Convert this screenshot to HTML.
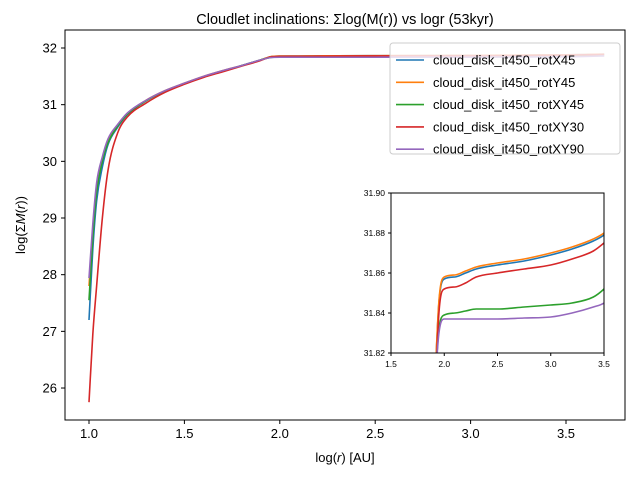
<!DOCTYPE html>
<html><head><meta charset="utf-8"><style>
html,body{margin:0;padding:0;background:#fff;width:640px;height:480px;overflow:hidden}
svg{position:absolute;left:0;top:0;display:block;font-family:"Liberation Sans","DejaVu Sans",sans-serif}
</style></head><body>
<svg id="chart" width="640" height="480" viewBox="0 0 640 480" xmlns="http://www.w3.org/2000/svg" overflow="hidden">
<defs>
<clipPath id="cm"><rect x="65" y="30" width="560" height="390"/></clipPath>
<clipPath id="ci"><rect x="391" y="193" width="213" height="160"/></clipPath>
</defs>
<rect width="640" height="480" fill="#fff"/>
<text x="345" y="24" text-anchor="middle" font-size="14.5">Cloudlet inclinations: Σlog(M(r)) vs logr (53kyr)</text>
<g id="mainLines" clip-path="url(#cm)"></g>
<rect x="65" y="30" width="560" height="390" fill="none" stroke="#000" stroke-width="1"/>
<g id="mainTicks" font-size="13"></g>
<text x="345" y="462" text-anchor="middle" font-size="13">log(<tspan font-style="italic">r</tspan>) [AU]</text>
<text transform="translate(25,225) rotate(-90)" text-anchor="middle" font-size="13">log(Σ<tspan font-style="italic">M</tspan>(<tspan font-style="italic">r</tspan>))</text>
<g id="legend">
<rect x="390" y="43" width="230" height="111" rx="3" fill="#fff" fill-opacity="0.8" stroke="#ccc"/>
</g>
<rect x="391" y="193" width="213" height="160" fill="#fff"/>
<g id="insetLines" clip-path="url(#ci)"></g>
<rect x="391" y="193" width="213" height="160" fill="none" stroke="#000" stroke-width="1"/>
<g id="insetTicks" font-size="8.5"></g>
</svg>
<script>
const xs=[1.0,1.02,1.04,1.07,1.1,1.15,1.2,1.3,1.4,1.5,1.6,1.7,1.8,1.9,1.95,2.0,2.1,2.2,2.3,2.5,2.75,3.0,3.2,3.4,3.5,3.6,3.7];
const seriesNames=["cloud_disk_it450_rotX45","cloud_disk_it450_rotY45","cloud_disk_it450_rotXY45","cloud_disk_it450_rotXY30","cloud_disk_it450_rotXY90"];
const seriesColors=["#1f77b4","#ff7f0e","#2ca02c","#d62728","#9467bd"];
const rotX45=[27.2,28.45,29.3,29.9,30.3,30.6,30.82,31.07,31.24,31.37,31.49,31.59,31.69,31.79,31.845,31.857,31.858,31.86,31.862,31.864,31.866,31.869,31.872,31.876,31.879,31.884,31.89];
const rotY45=[27.8,28.8,29.55,30.02,30.36,30.64,30.84,31.08,31.25,31.38,31.5,31.6,31.69,31.79,31.846,31.858,31.859,31.861,31.863,31.865,31.867,31.87,31.873,31.877,31.88,31.885,31.891];
const rotXY45=[27.55,28.65,29.45,30.0,30.33,30.62,30.83,31.07,31.24,31.37,31.49,31.59,31.69,31.79,31.832,31.839,31.84,31.841,31.842,31.842,31.843,31.844,31.845,31.848,31.852,31.858,31.865];
const rotXY30=[25.75,26.95,27.8,29.0,29.85,30.5,30.78,31.03,31.22,31.36,31.48,31.58,31.68,31.78,31.84,31.852,31.853,31.855,31.858,31.86,31.862,31.864,31.867,31.871,31.875,31.88,31.886];
const rotXY90=[27.94,28.9,29.62,30.08,30.4,30.65,30.85,31.08,31.25,31.38,31.5,31.6,31.69,31.79,31.83,31.837,31.837,31.837,31.837,31.837,31.8375,31.838,31.84,31.843,31.845,31.85,31.86];
const allSeries=[rotX45,rotY45,rotXY45,rotXY30,rotXY90];
const mainXTicks=[1.0,1.5,2.0,2.5,3.0,3.5];
const mainYTicks=[26,27,28,29,30,31,32];
const insetXTicks=[1.5,2.0,2.5,3.0,3.5];
const insetYTicks=[31.82,31.84,31.86,31.88,31.90];

const NS="http://www.w3.org/2000/svg";
const mx=v=>89+(v-1.0)*190.8;
const my=v=>48+(32-v)*56.67;
const ix=v=>391+(v-1.5)*106.5;
const iy=v=>353-(v-31.82)*2000;
function el(t,a,p){const e=document.createElementNS(NS,t);for(const k in a)e.setAttribute(k,a[k]);p.appendChild(e);return e;}
function monoPath(px,py){
  const n=px.length,d=[],m=[];
  for(let i=0;i<n-1;i++)d.push((py[i+1]-py[i])/(px[i+1]-px[i]));
  m[0]=d[0];m[n-1]=d[n-2];
  for(let i=1;i<n-1;i++){m[i]=(d[i-1]*d[i]<=0)?0:(d[i-1]+d[i])/2;}
  for(let i=0;i<n-1;i++){
    if(d[i]===0){m[i]=0;m[i+1]=0;continue;}
    const a=m[i]/d[i],b=m[i+1]/d[i],s=a*a+b*b;
    if(s>9){const t=3/Math.sqrt(s);m[i]=t*a*d[i];m[i+1]=t*b*d[i];}
  }
  let s='M'+px[0].toFixed(2)+','+py[0].toFixed(2);
  for(let i=0;i<n-1;i++){
    const h=(px[i+1]-px[i])/3;
    s+='C'+(px[i]+h).toFixed(2)+','+(py[i]+m[i]*h).toFixed(2)+' '+(px[i+1]-h).toFixed(2)+','+(py[i+1]-m[i+1]*h).toFixed(2)+' '+px[i+1].toFixed(2)+','+py[i+1].toFixed(2);
  }
  return s;
}
const mainG=document.getElementById('mainLines'),insG=document.getElementById('insetLines');
allSeries.forEach((s,i)=>{
  const p=el('path',{d:monoPath(xs.map(mx),s.map(my)),fill:'none',stroke:seriesColors[i],'stroke-width':1.6,'stroke-linejoin':'round'},mainG);
  
  
  const q=el('path',{d:monoPath(xs.map(ix),s.map(iy)),fill:'none',stroke:seriesColors[i],'stroke-width':1.6,'stroke-linejoin':'round'},insG);
  
  
});
const mt=document.getElementById('mainTicks');
mainXTicks.forEach(v=>{
  const x=mx(v);
  const l=el('line',{x1:x,x2:x,y1:420,y2:424,stroke:'#000'},mt);
  
  
  const t=el('text',{x:x,y:438,'text-anchor':'middle'},mt);t.textContent=v.toFixed(1);
  
  
});
mainYTicks.forEach(v=>{
  const y=my(v);
  const l=el('line',{x1:61,x2:65,y1:y,y2:y,stroke:'#000'},mt);
  
  
  const t=el('text',{x:57,y:y+4.5,'text-anchor':'end'},mt);t.textContent=v;
  
  
});
const it=document.getElementById('insetTicks');
insetXTicks.forEach(v=>{
  const x=ix(v);
  const l=el('line',{x1:x,x2:x,y1:353,y2:356,stroke:'#000'},it);
  
  
  const t=el('text',{x:x,y:367,'text-anchor':'middle'},it);t.textContent=v.toFixed(1);
  
  
});
insetYTicks.forEach(v=>{
  const y=iy(v);
  const l=el('line',{x1:388,x2:391,y1:y,y2:y,stroke:'#000'},it);
  
  
  const t=el('text',{x:385,y:y+3,'text-anchor':'end'},it);t.textContent=v.toFixed(2);
  
  
});
const lg=document.getElementById('legend');
seriesNames.forEach((n,i)=>{
  const y=60+i*22.3;
  const l=el('line',{x1:396,x2:424,y1:y,y2:y,stroke:seriesColors[i],'stroke-width':1.6},lg);
  
  
  const t=el('text',{x:433,y:y+4.5,'font-size':13},lg);t.textContent=n;
  
  
});
</script>
</body></html>
